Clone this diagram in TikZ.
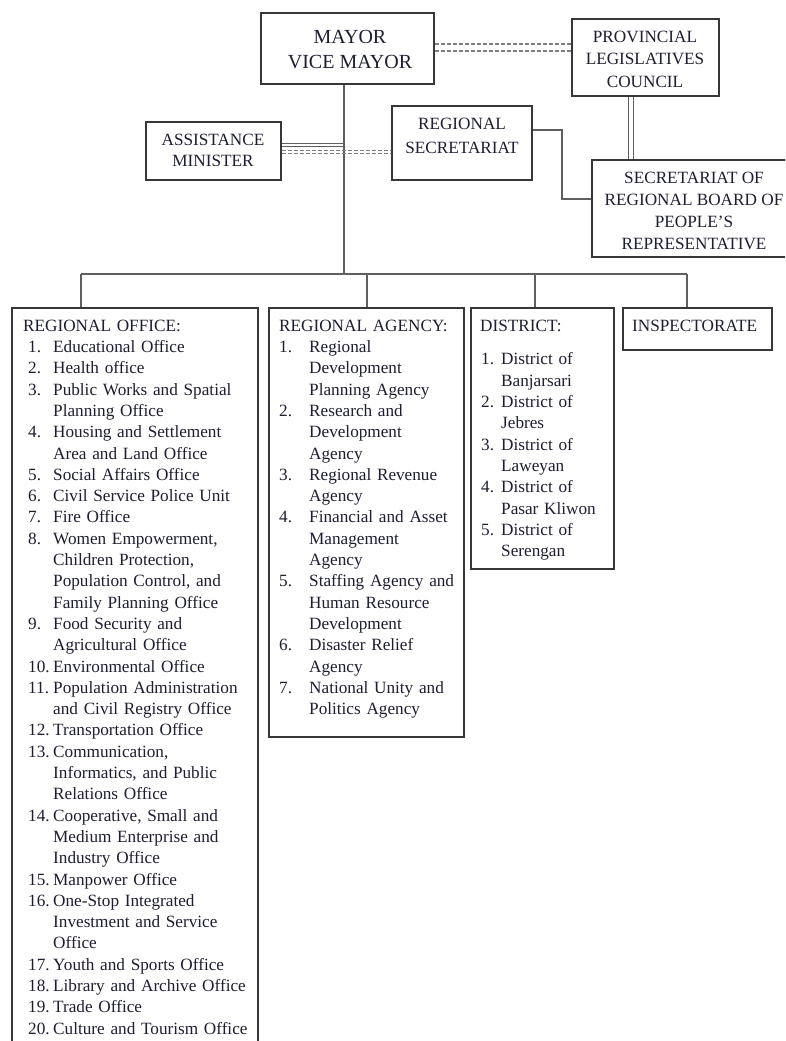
\documentclass[tikz,border=0pt]{standalone}
\usepackage{fontspec}
\setmainfont{Liberation Serif}
\definecolor{txtc}{RGB}{30,30,50}
\definecolor{boxc}{RGB}{55,55,55}
\definecolor{linec}{RGB}{95,95,95}
\definecolor{dashc}{RGB}{125,125,125}
% item with hanging indent: #1 offset, #2 number width, #3 number, #4 text
\newcommand\lstitem[4]{\par\noindent\hangindent=\dimexpr#1+#2\relax\hangafter=1\hspace*{#1}\makebox[#2][l]{#3}{\let\\\newline#4}}
\newcommand\firststrut{\rule{0pt}{16pt}}
\tikzset{
  orgbox/.style={draw=boxc, line width=1.3pt, inner sep=0pt, fill=white},
  lbl/.style={text=txtc, inner sep=0pt, anchor=base, font=\fontsize{17.2}{21.3}\selectfont},
  biglbl/.style={lbl, font=\fontsize{20}{25}\selectfont},
  lst/.style={text=txtc, inner sep=0pt, anchor=north west, text width=300pt,
    font=\fontsize{17.2}{21.3}\selectfont},
  conn/.style={draw=linec, line width=1.3pt},
  thinconn/.style={draw=linec, line width=0.9pt},
  dashline/.style={draw=dashc, line width=1.2pt, dash pattern=on 4pt off 2pt}
}
\begin{document}
\begin{tikzpicture}[x=1pt,y=-1pt]
\useasboundingbox (0,0) rectangle (785,1041);
\clip (0,0) rectangle (785,1041);
\fill[white] (0,0) rectangle (785,1041);

% boxes
\node[orgbox, minimum width=173pt, minimum height=71pt] (mayor) at (347.5,48.5) {};
\node[orgbox, minimum width=147pt, minimum height=77pt] (prov) at (645.5,57.5) {};
\node[orgbox, minimum width=135pt, minimum height=58pt] (assist) at (213.5,151) {};
\node[orgbox, minimum width=140pt, minimum height=74pt] (regsec) at (462,143) {};
\node[orgbox, minimum width=208pt, minimum height=97pt] (board) at (696,208.5) {};
\node[orgbox, minimum width=246pt, minimum height=760pt] (office) at (135,688) {};
\node[orgbox, minimum width=195pt, minimum height=429pt] (agency) at (366.5,522.5) {};
\node[orgbox, minimum width=143pt, minimum height=261pt] (district) at (542.5,438.5) {};
\node[orgbox, minimum width=149pt, minimum height=42pt] (insp) at (697.5,329) {};

% helper coordinates
\coordinate (busM) at (344,274);
\coordinate (busL) at (81,274);
\coordinate (busR) at (687,274);
\coordinate (dropA) at (367,274);
\coordinate (dropD) at (535,274);
\coordinate (ymp1) at (0,44);
\coordinate (ymp2) at (0,51);
\coordinate (xpb1) at (628,0);
\coordinate (xpb2) at (633,0);
\coordinate (rsA) at (562,130);
\coordinate (rsB) at (562,199);
\coordinate (ya1) at (0,143);
\coordinate (ya2) at (0,146.2);
\coordinate (yd1) at (0,150.6);
\coordinate (yd2) at (0,153.6);

% connectors
\draw[conn] (mayor.south -| busM) -- (busM);
\draw[conn] (busL) -- (busR);
\draw[conn] (busL) -- (busL |- office.north);
\draw[conn] (dropA) -- (dropA |- agency.north);
\draw[conn] (dropD) -- (dropD |- district.north);
\draw[conn] (busR) -- (busR |- insp.north);
\draw[dashline] (mayor.east |- ymp1) -- (prov.west |- ymp1);
\draw[dashline] (mayor.east |- ymp2) -- (prov.west |- ymp2);
\draw[thinconn] (prov.south -| xpb1) -- (board.north -| xpb1);
\draw[thinconn] (prov.south -| xpb2) -- (board.north -| xpb2);
\draw[conn] (regsec.east |- rsA) -- (rsA) -- (rsB) -- (board.west |- rsB);
\draw[thinconn] (assist.east |- ya1) -- (busM |- ya1);
\draw[thinconn] (assist.east |- ya2) -- (busM |- ya2);
\draw[dashline, line width=1pt] (assist.east |- yd1) -- (regsec.west |- yd1);
\draw[dashline, line width=1pt] (assist.east |- yd2) -- (regsec.west |- yd2);

% top texts
\node[biglbl] (tm1) at (350,44) {MAYOR};
\node[biglbl] (tm2) at (350,69) {VICE MAYOR};
\node[lbl] (tp1) at (645,42.3) {PROVINCIAL};
\node[lbl] (tp2) at (645,64.8) {LEGISLATIVES};
\node[lbl] (tp3) at (645,87.3) {COUNCIL};
\node[lbl] (ta1) at (213,145.7) {ASSISTANCE};
\node[lbl] (ta2) at (213,166.7) {MINISTER};
\node[lbl] (tr1) at (462,129) {REGIONAL};
\node[lbl] (tr2) at (462,153) {SECRETARIAT};
\node[lbl] (tb1) at (694,183) {SECRETARIAT OF};
\node[lbl] (tb2) at (694,205.5) {REGIONAL BOARD OF};
\node[lbl] (tb3) at (694,227) {PEOPLE’S};
\node[lbl] (tb4) at (694,249) {REPRESENTATIVE};
\node[lbl, anchor=base west] (ti) at (632,331) {INSPECTORATE};

% lists
\node[lst] (officelist) at (23,315) {\raggedright\firststrut REGIONAL OFFICE:
\lstitem{5pt}{25pt}{1.}{Educational Office}
\lstitem{5pt}{25pt}{2.}{Health office}
\lstitem{5pt}{25pt}{3.}{Public Works and Spatial\\Planning Office}
\lstitem{5pt}{25pt}{4.}{Housing and Settlement\\Area and Land Office}
\lstitem{5pt}{25pt}{5.}{Social Affairs Office}
\lstitem{5pt}{25pt}{6.}{Civil Service Police Unit}
\lstitem{5pt}{25pt}{7.}{Fire Office}
\lstitem{5pt}{25pt}{8.}{Women Empowerment,\\Children Protection,\\Population Control, and\\Family Planning Office}
\lstitem{5pt}{25pt}{9.}{Food Security and\\Agricultural Office}
\lstitem{5pt}{25pt}{10.}{Environmental Office}
\lstitem{5pt}{25pt}{11.}{Population Administration\\and Civil Registry Office}
\lstitem{5pt}{25pt}{12.}{Transportation Office}
\lstitem{5pt}{25pt}{13.}{Communication,\\Informatics, and Public\\Relations Office}
\lstitem{5pt}{25pt}{14.}{Cooperative, Small and\\Medium Enterprise and\\Industry Office}
\lstitem{5pt}{25pt}{15.}{Manpower Office}
\lstitem{5pt}{25pt}{16.}{One-Stop Integrated\\Investment and Service\\Office}
\lstitem{5pt}{25pt}{17.}{Youth and Sports Office}
\lstitem{5pt}{25pt}{18.}{Library and Archive Office}
\lstitem{5pt}{25pt}{19.}{Trade Office}
\lstitem{5pt}{25pt}{20.}{Culture and Tourism Office}\par};

\node[lst] (agencylist) at (279,315) {\raggedright\firststrut REGIONAL AGENCY:
\lstitem{0pt}{30pt}{1.}{Regional\\Development\\Planning Agency}
\lstitem{0pt}{30pt}{2.}{Research and\\Development\\Agency}
\lstitem{0pt}{30pt}{3.}{Regional Revenue\\Agency}
\lstitem{0pt}{30pt}{4.}{Financial and Asset\\Management\\Agency}
\lstitem{0pt}{30pt}{5.}{Staffing Agency and\\Human Resource\\Development}
\lstitem{0pt}{30pt}{6.}{Disaster Relief\\Agency}
\lstitem{0pt}{30pt}{7.}{National Unity and\\Politics Agency}\par};

\node[lst] (districtlist) at (480,315) {\raggedright\firststrut DISTRICT:\par\vspace{12.4pt}
\lstitem{1pt}{20pt}{1.}{District of\\Banjarsari}
\lstitem{1pt}{20pt}{2.}{District of\\Jebres}
\lstitem{1pt}{20pt}{3.}{District of\\Laweyan}
\lstitem{1pt}{20pt}{4.}{District of\\Pasar Kliwon}
\lstitem{1pt}{20pt}{5.}{District of\\Serengan}\par};
\end{tikzpicture}
\end{document}
